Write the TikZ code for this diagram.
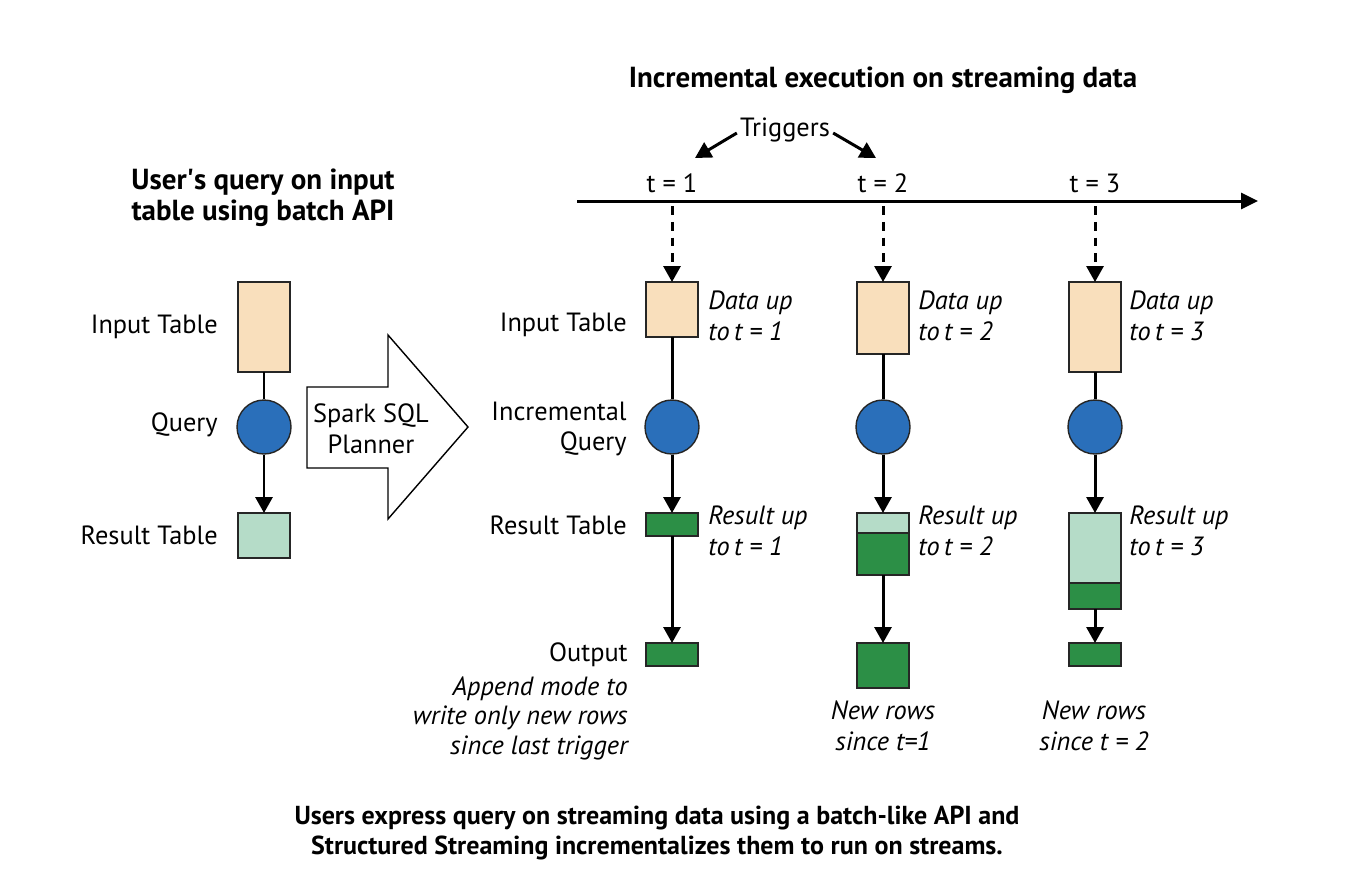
\documentclass[tikz,border=0pt]{standalone}
\usepackage{fontspec}
\setmainfont{PT Sans}
\usetikzlibrary{arrows.meta,positioning}
\definecolor{peach}{HTML}{F9DFBC}
\definecolor{qblue}{HTML}{2A6FBA}
\definecolor{lightres}{HTML}{B5DCC8}
\definecolor{darkres}{HTML}{2C8F46}
\tikzset{
  txt/.style={font=\fontsize{15}{17.5}\selectfont, inner sep=0pt},
  lbl/.style={txt, anchor=east, align=right},
  note/.style={txt, anchor=west, align=left, font=\fontsize{15}{17.5}\selectfont\itshape},
  head/.style={txt, align=center, font=\fontsize{16.5}{17.5}\selectfont\bfseries},
  box/.style={draw=black!85, line width=0.8pt, inner sep=0pt, outer sep=0pt, minimum width=1.04cm},
  inbox/.style={box, fill=peach},
  litebox/.style={box, fill=lightres},
  darkbox/.style={box, fill=darkres},
  qry/.style={circle, draw=black!85, line width=0.8pt, fill=qblue, minimum size=1.08cm, inner sep=0pt},
  link/.style={line width=1.7pt},
  arr/.style={link, -{Triangle[length=0.32cm, width=0.34cm]}},
  dasharr/.style={arr, dash pattern=on 5pt off 4pt}
}
\begin{document}
\begin{tikzpicture}[x=0.02cm, y=-0.02cm]
\useasboundingbox (0,0) rectangle (1351,894);

% batch side
\node[head] (btitle) at (263,198) {User\textquotesingle s query on input\\table using batch API};
\node[inbox, minimum height=1.8cm] (bin) at (264,327) {};
\node[qry] (bq) at (264,427) {};
\node[litebox, minimum height=0.9cm] (bres) at (264,535.5) {};
\draw[link] (bin) -- (bq);
\draw[arr] (bq) -- (bres);
\node[lbl] (lin) at (218,327) {Input Table};
\node[lbl] (lq) at (218,425) {Query};
\node[lbl] (lres) at (218,535) {Result Table};

% planner arrow
\draw[line width=0.8pt, fill=white] (307,387) -- (388,387) -- (388,335) -- (468,427)
  -- (388,519) -- (388,468) -- (307,468) -- cycle;
\node[txt, align=center] (plan) at (371,429) {Spark SQL\\Planner};

% streaming side
\node[head] (stitle) at (883,80) {Incremental execution on streaming data};
\coordinate (tl0) at (577,201);
\coordinate (tl1) at (1258,201);
\draw[link, -{Triangle[length=0.34cm, width=0.32cm]}] (tl0) -- (tl1);
\node[txt] (t1) at (672,183) {t = 1};
\node[txt] (t2) at (883,183) {t = 2};
\node[txt] (t3) at (1095,183) {t = 3};
\node[txt] (trig) at (785,130) {Triggers};
\coordinate (a1) at (695,158);
\coordinate (a2) at (876,158);
\draw[arr] (trig.west) ++(-3,3) -- (a1);
\draw[arr] (trig.east) ++(3,3) -- (a2);

\node[inbox, minimum height=1.1cm] (in1) at (672,309.5) {};
\node[inbox, minimum height=1.44cm] (in2) at (883,318) {};
\node[inbox, minimum height=1.8cm] (in3) at (1095,327) {};
\coordinate (d1) at (672,206);
\coordinate (d2) at (883,206);
\coordinate (d3) at (1095,206);
\draw[dasharr] (d1) -- (in1);
\draw[dasharr] (d2) -- (in2);
\draw[dasharr] (d3) -- (in3);

\node[qry] (q1) at (672,427) {};
\node[qry] (q2) at (883,427) {};
\node[qry] (q3) at (1095,427) {};

\node[darkbox, minimum height=0.46cm] (r1) at (672,524.5) {};
\node[litebox, minimum height=0.4cm] (r2a) at (883,523) {};
\node[darkbox, minimum height=0.84cm] (r2b) at (883,554) {};
\node[litebox, minimum height=1.4cm] (r3a) at (1095,548) {};
\node[darkbox, minimum height=0.52cm] (r3b) at (1095,596) {};

\node[darkbox, minimum height=0.46cm] (o1) at (672,654.5) {};
\node[darkbox, minimum height=0.9cm] (o2) at (883,665.5) {};
\node[darkbox, minimum height=0.46cm] (o3) at (1095,654.5) {};

\draw[link] (in1) -- (q1);
\draw[link] (in2) -- (q2);
\draw[link] (in3) -- (q3);
\draw[arr] (q1) -- (r1);
\draw[arr] (q2) -- (r2a);
\draw[arr] (q3) -- (r3a);
\draw[arr] (r1) -- (o1);
\draw[arr] (r2b) -- (o2);
\draw[arr] (r3b) -- (o3);

\node[lbl] (sin) at (627,325) {Input Table};
\node[lbl] (sq) at (627,429) {Incremental\\Query};
\node[lbl] (sres) at (627,525) {Result Table};
\node[lbl] (sout) at (628,655) {Output};
\node[lbl, font=\fontsize{15}{17}\selectfont\itshape, anchor=north east] (mode) at (628,676)
  {Append mode to\\write only new rows\\since last trigger};

\node[note] (n1) at (708,316) {Data up\\to\,\textit{t} = 1};
\node[note] (n2) at (918,316) {Data up\\to\,\textit{t} = 2};
\node[note] (n3) at (1129,316) {Data up\\to\,\textit{t} = 3};
\node[note] (m1) at (708,531) {Result up\\to\,\textit{t} = 1};
\node[note] (m2) at (918,531) {Result up\\to\,\textit{t} = 2};
\node[note] (m3) at (1129,531) {Result up\\to\,\textit{t} = 3};
\node[txt, align=center, font=\fontsize{15}{17.5}\selectfont\itshape] (new2) at (883,726) {New rows\\since t=1};
\node[txt, align=center, font=\fontsize{15}{17.5}\selectfont\itshape] (new3) at (1094,726) {New rows\\since t = 2};

% caption
\node[head, font=\fontsize{14.8}{17.5}\selectfont\bfseries] (cap) at (657,833) {Users express query on streaming data using a batch-like API and\\Structured Streaming incrementalizes them to run on streams.};
\end{tikzpicture}
\end{document}
